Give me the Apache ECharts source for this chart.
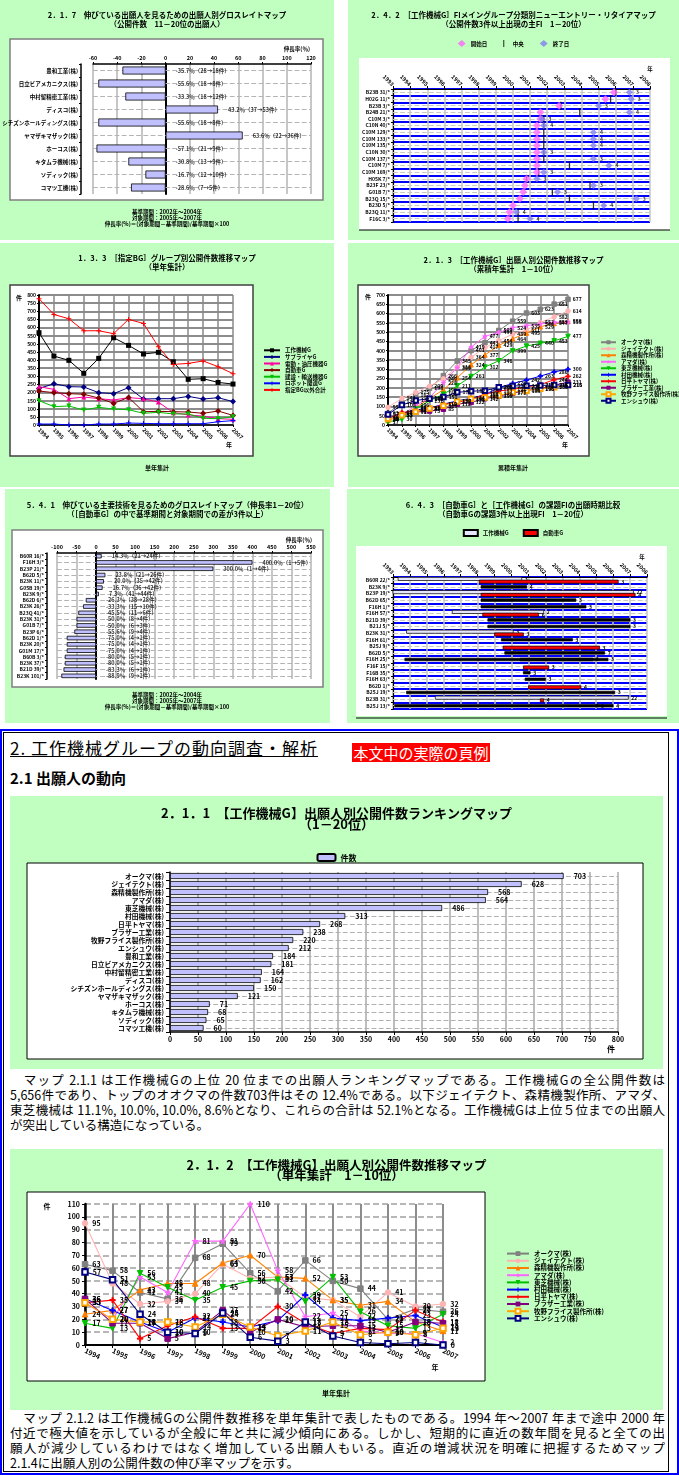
<!DOCTYPE html>
<html><head><meta charset="utf-8">
<script src="https://cdn.jsdelivr.net/npm/echarts@6/dist/echarts.min.js"></script>
<style>
body{margin:0;width:679px;height:1475px;position:relative;background:#fff;overflow:hidden;font-family:"Noto Sans CJK JP","Noto Sans",sans-serif;color:#000}
.c{position:absolute}
.ln{height:15px;line-height:15px;font-size:12.5px;text-align:justify;text-align-last:justify;overflow:hidden}
.ln.last{text-align-last:left}
</style></head><body>
<div id="p1" class="c" style="left:0;top:0;width:334px;height:240px"></div>
<div id="p2" class="c" style="left:348px;top:0;width:331px;height:240px"></div>
<div id="p3" class="c" style="left:0;top:243px;width:334px;height:244px"></div>
<div id="p4" class="c" style="left:348px;top:243px;width:331px;height:244px"></div>
<div id="p5" class="c" style="left:5px;top:489px;width:325px;height:234px"></div>
<div id="p6" class="c" style="left:347px;top:489px;width:332px;height:234px"></div>

<div class="c" style="left:0;top:729px;width:675px;height:742px;border:2px solid #0000ff"></div>
<div class="c" style="left:3px;top:732px;width:664px;height:738px;border:1px solid #000"></div>
<div class="c" style="left:10px;top:737px;font-size:17px;line-height:21px;letter-spacing:1px;text-decoration:underline">2. 工作機械グループの動向調査・解析</div>
<div class="c" style="left:352px;top:743px;width:138px;height:19px;background:#ff0000;color:#fff;font-size:15px;line-height:19px;text-align:center">本文中の実際の頁例</div>
<div class="c" style="left:10px;top:769px;font-size:15px;line-height:18px;font-weight:bold">2.1 出願人の動向</div>

<div id="p7" class="c" style="left:10px;top:796px;width:653px;height:273px"></div>
<div class="c" style="left:10px;top:1072px;width:655px">
<div class="ln">　マップ 2.1.1 は工作機械Gの上位 20 位までの出願人ランキングマップである。工作機械Gの全公開件数は</div>
<div class="ln">5,656件であり、トップのオオクマの件数703件はその 12.4%である。以下ジェイテクト、森精機製作所、アマダ、</div>
<div class="ln">東芝機械は 11.1%, 10.0%, 10.0%, 8.6%となり、これらの合計は 52.1%となる。工作機械Gは上位５位までの出願人</div>
<div class="ln last">が突出している構造になっている。</div>
</div>
<div id="p8" class="c" style="left:10px;top:1149px;width:653px;height:261px"></div>
<div class="c" style="left:10px;top:1410px;width:655px">
<div class="ln">　マップ 2.1.2 は工作機械Gの公開件数推移を単年集計で表したものである。1994 年～2007 年まで途中 2000 年</div>
<div class="ln">付近で極大値を示しているが全般に年と共に減少傾向にある。しかし、短期的に直近の数年間を見ると全ての出</div>
<div class="ln">願人が減少しているわけではなく増加している出願人もいる。直近の増減状況を明確に把握するためマップ</div>
<div class="ln last">2.1.4に出願人別の公開件数の伸び率マップを示す。</div>
</div>

<script>
// ================= DATA =================
// 2.1.7 growth map (applicants 11-20)
const p1Cats = ['豊和工業(株)','日立ビアメカニクス(株)','中村留精密工業(株)','ディスコ(株)','シチズンホールディングス(株)','ヤマザキマザック(株)','ホーコス(株)','キタムラ機械(株)','ソディック(株)','コマツ工機(株)'];
const p1Rate = [-35.7,-55.6,-33.3,43.2,-55.6,63.6,-57.1,-30.8,-16.7,-28.6];
const p1Base = [28,18,18,37,18,22,21,13,12,7];
const p1Target = [18,8,12,53,8,36,9,9,10,5];

// 2.4.2 new entry / retire map
const p2Cats = ['B23B 31/*','H02G 11/*','B23B 3/*','B24B 21/*','C10M 3/*','C10N 40/*','C10M 129/*','C10M 133/*','C10M 135/*','C10N 30/*','C10M 137/*','C10M 7/*','C10M 169/*','H05K 7/*','B23F 23/*','G01B 7/*','B23Q 15/*','B23D 5/*','B23Q 11/*','F16C 3/*'];
const p2Start = [2005.9,2005.4,2002.7,2001.6,2001.6,2001.4,2001.4,2001.4,2001.4,2001.4,2001.4,2001.4,2001.4,2000.8,2000.7,2000.6,2000.4,2000.0,1999.8,1999.7];
const p2Mid = [2006.0,2005.7,2002.8,2003.9,2001.8,2001.8,2001.8,2001.8,2001.8,2001.8,2001.8,2003.3,2001.5,2000.8,2004.5,2002.3,2003.3,2004.7,2000.3,2000.3];
const p2End = [2006.8,2006.9,2005.0,2006.8,2001.7,2001.8,2004.7,2004.7,2004.7,2001.8,2004.7,2005.6,2001.8,2001.4,2004.7,2002.6,2007.2,2005.3,2000.2,2001.0];
const p2Count = [3,3,3,4,3,4,4,4,4,3,3,4,3,3,3,3,3,4,4,4];

// common years
const years = ['1994','1995','1996','1997','1998','1999','2000','2001','2002','2003','2004','2005','2006','2007'];

// 1.3.3 group trend (single year)
const p3Names = ['工作機械G','サプライヤG','電動・油圧機器G','自動車G','建設・輸送機器G','ロボット関連G','指定BG以外合計'];
const p3Machine = [568,424,398,318,410,537,490,437,447,389,281,285,262,252];
const p3Supplier = [225,254,236,234,199,193,230,160,162,162,176,160,168,144];
const p3Motor = [236,219,162,172,162,154,168,162,141,76,62,55,39,35];
const p3Auto = [209,199,193,189,166,133,170,82,84,82,80,72,86,59];
const p3Construct = [150,113,117,92,109,98,94,72,78,68,68,41,39,51];
const p3Robot = [6,6,0,0,6,6,12,10,8,8,8,8,20,27];
const p3Other = [777,680,654,580,580,562,650,625,482,373,379,394,359,316];

// applicants top 10
const appNames = ['オークマ(株)','ジェイテクト(株)','森精機製作所(株)','アマダ(株)','東芝機械(株)','村田機械(株)','日平トヤマ(株)','ブラザー工業(株)','牧野フライス製作所(株)','エンシュウ(株)'];
// 2.1.3 cumulative
const okumaCum = [63,121,162,198,266,345,401,443,509,559,603,623,651,677];
const jtektCum = [95,143,175,209,249,312,364,417,454,489,511,552,582,614];
const moriCum = [24,51,94,142,190,254,324,377,429,464,495,529,547,558];
const amadaCum = [33,53,106,147,228,309,419,477,499,524,535,544,553,555];
const toshibaCum = [17,30,86,131,166,211,261,312,346,399,425,440,453,477];
const murataCum = [36,63,81,91,112,130,144,163,202,223,242,263,286,300];
const toyamaCum = [33,68,73,88,110,123,136,166,183,192,205,217,244,262];
const brotherCum = [36,53,70,75,85,112,122,142,156,171,186,196,214,231];
const makinoCum = [33,53,71,89,103,127,141,148,159,177,185,195,203,216];
const enshuCum = [57,108,132,142,151,176,182,185,203,210,212,213,215,215];
// 2.1.2 single year
const okumaYr = [63,58,41,36,68,79,56,42,66,50,44,20,28,26];
const jtektYr = [95,48,32,34,40,63,52,53,37,35,22,41,30,32];
const moriYr = [24,27,43,48,48,64,70,53,52,35,31,34,18,11];
const amadaYr = [33,20,53,41,81,81,110,58,22,25,11,9,9,2];
const toshibaYr = [17,13,56,45,35,45,50,51,34,53,26,15,13,24];
const murataYr = [36,27,18,10,21,18,14,19,39,21,19,21,23,14];
const toyamaYr = [33,35,5,15,22,13,13,30,17,9,13,12,27,18];
const brotherYr = [36,17,17,5,10,27,10,20,14,15,15,10,18,17];
const makinoYr = [33,20,18,18,14,24,14,7,11,18,8,10,8,13];
const enshuYr = [57,51,24,10,9,25,6,3,18,7,2,1,2,0];

// 5.4.1 growth map (technologies)
const p5Cats = ['B60R 16/*','F16H 3/*','B23P 21/*','B62D 5/*','B23K 11/*','G05B 19/*','B23K 9/*','B62D 6/*','B23K 26/*','B23Q 41/*','B23K 31/*','G01B 7/*','B23P 6/*','B62D 1/*','B23K 20/*','G01M 17/*','B60B 3/*','B23K 37/*','B21D 39/*','B23K 101/*'];
const p5Rate = [14.3,400.0,300.0,23.8,20.0,16.7,7.3,-26.3,-33.3,-45.5,-50.0,-50.0,-55.6,-75.0,-75.0,-75.0,-80.0,-80.0,-83.3,-88.9];
const p5Base = [21,1,1,21,35,36,41,38,15,11,8,6,9,4,4,4,5,5,6,9];
const p5Target = [24,5,4,26,42,42,44,28,10,6,4,3,4,1,1,1,1,1,1,1];

// 6.4.3 period comparison
const p6Cats = ['B60R 22/*','B23K 9/*','B23P 19/*','B62D 65/*','F16H 1/*','F16H 57/*','B21D 39/*','B21J 5/*','B23K 31/*','F16H 61/*','B25J 9/*','B62D 5/*','F16H 25/*','F16F 15/*','F16B 35/*','F16H 63/*','B62D 1/*','B25J 19/*','B23B 31/*','B25J 13/*'];
const mtRows = [0,2,5,8,18];
const mtStart = [1993.3,1993.0,1996.5,1993.8,1995.5];
const mtEnd = [2000.6,2007.2,2001.9,2000.1,2006.9];
const mtCount = [3,22,2,3,22];
const auRows = [0,2,5,8,10,13,16,18];
const auStart = [1998.1,1998.2,1998.3,1999.0,1999.5,2000.7,2001.0,2001.7];
const auEnd = [2006.3,2007.3,2001.6,2000.7,2005.2,2002.2,2004.1,2001.9];
const auCount = [3,4,6,3,3,3,4,4];
const bkRows = [1,3,4,6,7,9,11,12,12,14,15,17,19,19];
const bkStart = [1998.2,1998.2,1998.2,1998.6,1998.6,1999.4,1999.6,1993.7,2000.5,2000.7,2000.8,1993.8,1993.1,2005.0];
const bkEnd = [2000.9,2003.8,2004.4,2007.0,2007.0,2003.6,2005.5,2004.8,2005.7,2001.1,2002.0,2006.1,2005.1,2006.0];
const bkCount = [4,3,3,3,3,3,7,3,3,3,3,3,3,4];

// 2.1.1 ranking
const rankCats = ['オークマ(株)','ジェイテクト(株)','森精機製作所(株)','アマダ(株)','東芝機械(株)','村田機械(株)','日平トヤマ(株)','ブラザー工業(株)','牧野フライス製作所(株)','エンシュウ(株)','豊和工業(株)','日立ビアメカニクス(株)','中村留精密工業(株)','ディスコ(株)','シチズンホールディングス(株)','ヤマザキマザック(株)','ホーコス(株)','キタムラ機械(株)','ソディック(株)','コマツ工機(株)'];
const rankVals = [703,628,568,564,486,313,268,238,220,212,184,181,164,162,150,121,71,68,65,60];

const notes = ['基準期間：2002年～2004年','対象期間：2005年～2007年','伸長率(%)＝(対象期間－基準期間)/基準期間×100'];

// ================= HELPERS =================
const FF = '"Noto Sans CJK JP","Noto Sans",sans-serif';
const GREEN = '#c0ffc0';
function mk(id, opt){
  const c = echarts.init(document.getElementById(id), null, {renderer:'canvas'});
  opt.textStyle = Object.assign({fontFamily:FF, color:'#000'}, opt.textStyle||{});
  opt.animation = false;
  opt.backgroundColor = GREEN;
  c.setOption(opt);
}
function gtext(x, y, text, size, align, weight){
  return {type:'text', x:x, y:y, z:10, style:{text:text, fontSize:size, fontWeight:weight||'bold', fontFamily:FF, fill:'#000',
    align:align||'center', verticalAlign:'middle', textAlign:align||'center', textVerticalAlign:'middle'}};
}
function box(x,y,w,h,stroke,lw){
  return {type:'rect', z:-10, shape:{x:x,y:y,width:w,height:h}, style:{fill:'#fff', stroke:stroke||null, lineWidth:lw||0}};
}
function hline(x1,x2,y,color,w){
  return {type:'line', z:-5, shape:{x1:x1,y1:y,x2:x2,y2:y}, style:{stroke:color, lineWidth:w}};
}
function titleOpt(text, top, size, lh){
  return {text:text, left:'center', top:top, padding:0, textStyle:{fontSize:size, fontWeight:'bold', lineHeight:lh, color:'#000', fontFamily:FF}};
}
function rowLines(cats, color){
  return {type:'line', data:[], silent:true,
    markLine:{silent:true, z:1, symbol:'none', label:{show:false}, animation:false,
      lineStyle:{color:color||'#b4b4b4', type:'dashed', width:1.2},
      data:cats.map((c,i)=>({yAxis:i}))}};
}
const PLUS = 'path://M4,0h2v4h4v2h-4v4h-2v-4h-4v-2h4z';
const STAR = 'path://M5,0L6.2,3.8L10,3.8L7,6.2L8.1,10L5,7.6L1.9,10L3,6.2L0,3.8L3.8,3.8Z';
const DASH = 'path://M0,4h10v2h-10z';

function growthOption(c){
  const labels = c.rate.map((v,i)=> v.toFixed(1)+'％（'+c.base[i]+'→'+c.target[i]+'件）');
  return {
    title: titleOpt(c.title, c.titleTop, 7.5, 9.5),
    graphic: [box(c.box[0],c.box[1],c.box[2],c.box[3],'#7f7f7f',1.5),
      gtext(c.nameX, c.nameY, '伸長率(％)', 5.5, 'right')]
      .concat(notes.map((t,i)=>gtext(c.noteX, c.noteY+i*5.8, t, 5.5, 'center'))),
    grid: Object.assign({outerBoundsMode:'none'}, c.grid),
    xAxis: {type:'value', min:c.min, max:c.max, interval:c.interval, position:'top',
      axisLine:{show:true, onZero:false, lineStyle:{color:'#000', width:1.5}},
      axisTick:{show:true, length:2, lineStyle:{color:'#000'}},
      axisLabel:{fontSize:5.5, fontWeight:'bold', color:'#000', margin:3},
      splitLine:{show:true, lineStyle:{color:'#b4b4b4', width:1.5}}},
    yAxis: [
      {type:'category', inverse:true, data:c.cats, offset:c.yOffset,
       axisLine:{show:true, onZero:false, lineStyle:{color:'#000', width:1.5}},
       axisTick:{show:true, length:2, interval:0, lineStyle:{color:'#000'}},
       axisLabel:{fontSize:c.catFont, fontWeight:'bold', color:'#000', margin:3, interval:0},
       splitLine:{show:false}},
      {type:'category', inverse:true, data:c.cats, position:'left',
       axisLine:{show:true, onZero:true, lineStyle:{color:'#000', width:2}},
       axisTick:{show:false}, axisLabel:{show:false}, splitLine:{show:false}}
    ],
    series: [
      {type:'bar', data:c.rate, barWidth:c.barWidth, z:3,
       itemStyle:{color:'#c0c0ff', borderColor:'#000', borderWidth:0.8}},
      {type:'scatter', data:c.rate.map((v,i)=>[Math.max(v,0), i]), symbolSize:0, z:4, silent:true,
       label:{show:true, position:'right', distance:c.labelDist, formatter:p=>labels[p.dataIndex],
         fontSize:5.5, fontWeight:'bold', color:'#000'}},
      rowLines(c.cats)
    ]
  };
}

function timeAxis(){
  return {type:'value', min:1993, max:2008, interval:1, position:'top',
    axisLine:{show:true, onZero:false, lineStyle:{color:'#000', width:1.2}},
    axisTick:{show:true, length:3, lineStyle:{color:'#000'}},
    axisLabel:{rotate:45, fontSize:5.5, fontWeight:'bold', color:'#000', margin:4, formatter:v=>String(v)},
    splitLine:{show:true, lineStyle:{color:'#c4c4c4', width:1.5}}};
}
function rowAxis(cats){
  return {type:'category', inverse:true, data:cats,
    axisLine:{show:true, onZero:false, lineStyle:{color:'#000', width:1.2}},
    axisTick:{show:true, length:2, interval:0, lineStyle:{color:'#000'}},
    axisLabel:{fontSize:5, fontWeight:'bold', color:'#000', margin:3, interval:0},
    splitLine:{show:true, interval:0, lineStyle:{color:'#0000ff', width:2}}};
}

// ================= PANEL 1 : 2.1.7 =================
mk('p1', growthOption({
  title:'2．1．7　伸びている出願人を見るための出願人別グロスレイトマップ\n（公開件数　11－20位の出願人）',
  titleTop:10, cats:p1Cats, rate:p1Rate, base:p1Base, target:p1Target,
  box:[10,39,313,161], grid:{left:93, right:23, top:64, bottom:46},
  min:-60, max:120, interval:20, yOffset:12, nameX:310, nameY:49,
  noteX:167, noteY:212, barWidth:8, labelDist:10, catFont:5.5
}));

// ================= PANEL 2 : 2.4.2 =================
mk('p2', {
  title: titleOpt('2．4．2　［工作機械G］FIメイングループ分類別ニューエントリー・リタイアマップ\n（公開件数3件以上出現の主FI　1－20位）', 10, 7.5, 9.5),
  legend:{top:40, left:'center', padding:0, itemGap:16, itemWidth:8, itemHeight:7,
    textStyle:{fontSize:5.5, fontWeight:'bold', color:'#000'},
    data:[{name:'開始日'},{name:'中央', icon:'path://M0,0h1.5v10h-1.5z'},{name:'終了日'}]},
  graphic:[box(11,58,311,172), hline(11,322,230,'#000',1.2), gtext(302,69,'年',5.5,'center')],
  grid:{left:45, right:29, top:89, bottom:18, outerBoundsMode:'none'},
  xAxis: timeAxis(),
  yAxis: rowAxis(p2Cats),
  series:[
    {name:'開始日', type:'scatter', symbol:'diamond', symbolSize:8, z:4, itemStyle:{color:'#ff66ff'},
     data:p2Start.map((v,i)=>[v,i])},
    {name:'中央', type:'scatter', symbol:'rect', symbolSize:[1.3,8], z:3, itemStyle:{color:'#000'},
     data:p2Mid.map((v,i)=>[v,i])},
    {name:'終了日', type:'scatter', symbol:'diamond', symbolSize:7, z:4, itemStyle:{color:'#8080f0'},
     data:p2End.map((v,i)=>[v,i]),
     label:{show:true, position:'right', distance:3, formatter:p=>String(p2Count[p.dataIndex]), fontSize:5, fontWeight:'bold', color:'#000'}},
    rowLines(p2Cats, '#c8c8c8')
  ]
});

// ================= PANEL 3 : 1.3.3 =================
function ln(name, data, color, symbol, size, extra){
  return Object.assign({name:name, type:'line', data:data, symbol:symbol, symbolSize:size, showAllSymbol:true,
    lineStyle:{color:color, width:1}, itemStyle:{color:color}}, extra||{});
}
mk('p3', {
  title: titleOpt('1．3．3　［指定BG］グループ別公開件数推移マップ\n（単年集計）', 10, 7.5, 9.5),
  legend:{orient:'vertical', left:263, top:104, padding:0, itemGap:0, itemWidth:16, itemHeight:5,
    textStyle:{fontSize:5.5, fontWeight:'bold', lineHeight:6.6, color:'#000'}},
  graphic:[box(10,42,243,171,'#404040',1.5), gtext(19,55,'件',6,'center'), gtext(229,202,'年',6,'center'), gtext(157,225,'単年集計',6,'center')],
  grid:{left:39, right:101, top:52, bottom:62, outerBoundsMode:'none'},
  xAxis:{type:'category', data:years, boundaryGap:false,
    axisLine:{lineStyle:{color:'#000', width:1.5}}, axisTick:{show:true, interval:0, length:2, lineStyle:{color:'#000'}},
    axisLabel:{rotate:-45, fontSize:5.5, fontWeight:'bold', color:'#000', interval:0, margin:4},
    splitLine:{show:true, interval:0, lineStyle:{color:'#888', width:1.5}}},
  yAxis:{type:'value', min:0, max:800, interval:50,
    axisLine:{show:true, lineStyle:{color:'#000', width:2}}, axisTick:{show:true, length:2, lineStyle:{color:'#000'}},
    axisLabel:{fontSize:5, fontWeight:'bold', color:'#000', margin:3},
    splitLine:{lineStyle:{color:'#8c8c8c', width:1.8}}},
  series:[
    ln(p3Names[0], p3Machine, '#000000', 'rect', 5),
    ln(p3Names[1], p3Supplier, '#000080', 'diamond', 6),
    ln(p3Names[2], p3Motor, '#ff00a0', 'triangle', 5),
    ln(p3Names[3], p3Auto, '#800000', 'diamond', 6),
    ln(p3Names[4], p3Construct, '#00c000', 'triangle', 5, {symbolRotate:180}),
    ln(p3Names[5], p3Robot, '#0000ff', PLUS, 5),
    ln(p3Names[6], p3Other, '#ff0000', PLUS, 5)
  ]
});

// ================= PANEL 4 : 2.1.3 =================
const appColors = ['#808080','#ffb4b4','#ff8000','#ff66ff','#00c000','#0000ff','#ff0000','#800080','#ffa500','#000080'];
const appSymbols = ['rect','circle','triangle',STAR,'triangle',PLUS,PLUS,DASH,'emptyRect','emptyRect'];
const cumData = [okumaCum,jtektCum,moriCum,amadaCum,toshibaCum,murataCum,toyamaCum,brotherCum,makinoCum,enshuCum];
const yrData = [okumaYr,jtektYr,moriYr,amadaYr,toshibaYr,murataYr,toyamaYr,brotherYr,makinoYr,enshuYr];
function appSeries(dataSets, size, lw, labelSize, dist){
  return appNames.map((n,i)=>({name:n, type:'line', data:dataSets[i], symbol:appSymbols[i], symbolSize:size,
    symbolRotate: i===4 ? 180 : 0, showAllSymbol:true,
    lineStyle:{color:appColors[i], width:lw}, itemStyle:{color:appColors[i], borderColor:appColors[i]},
    label:{show:true, position:'right', distance:dist, fontSize:labelSize, fontWeight:'bold', color:'#000'}}));
}
mk('p4', {
  title: titleOpt('2．1．3　［工作機械G］出願人別公開件数推移マップ\n（累積年集計　1－10位）', 12, 7.5, 9.5),
  legend:{orient:'vertical', left:252, top:96, padding:0, itemGap:0, itemWidth:15, itemHeight:5,
    textStyle:{fontSize:5.5, fontWeight:'bold', lineHeight:6.5, color:'#000'}},
  graphic:[box(10,42,231,171,'#404040',1.5), gtext(20,54,'件',6,'center'), gtext(217,202,'年',6,'center'), gtext(165,225,'累積年集計',6,'center')],
  grid:{left:40, right:111, top:52, bottom:62, outerBoundsMode:'none'},
  xAxis:{type:'category', data:years, boundaryGap:false,
    axisLine:{lineStyle:{color:'#000', width:1.5}}, axisTick:{show:true, interval:0, length:2, lineStyle:{color:'#000'}},
    axisLabel:{rotate:-45, fontSize:5.5, fontWeight:'bold', color:'#000', interval:0, margin:4},
    splitLine:{show:true, interval:0, lineStyle:{color:'#888', width:1.5}}},
  yAxis:{type:'value', min:0, max:700, interval:50,
    axisLine:{show:true, lineStyle:{color:'#000', width:2}}, axisTick:{show:true, length:2, lineStyle:{color:'#000'}},
    axisLabel:{fontSize:5, fontWeight:'bold', color:'#000', margin:3},
    splitLine:{lineStyle:{color:'#8c8c8c', width:1.8}}},
  series: appSeries(cumData, 4.5, 1, 5, 2)
});

// ================= PANEL 5 : 5.4.1 =================
mk('p5', growthOption({
  title:'5．4．1　伸びている主要技術を見るためのグロスレイトマップ（伸長率1－20位）\n（［自動車G］の中で基準期間と対象期間での差が3件以上）',
  titleTop:11, cats:p5Cats, rate:p5Rate, base:p5Base, target:p5Target,
  box:[7,41,311,157], grid:{left:52, right:19, top:64, bottom:44},
  min:-100, max:550, interval:50, yOffset:10, nameX:307, nameY:51,
  noteX:162, noteY:206, barWidth:4.5, labelDist:10, catFont:5
}));

// ================= PANEL 6 : 6.4.3 =================
function rangeSeries(name, rows, start, end, count, fill, h, dy){
  return {name:name, type:'custom', z:3, itemStyle:{color:fill, borderColor:'#000', borderWidth:0.8},
    encode:{x:[1,2], y:0},
    data: rows.map((r,i)=>[r, start[i], end[i], count[i]]),
    renderItem: function(params, api){
      const a = api.coord([api.value(1), api.value(0)]);
      const b = api.coord([api.value(2), api.value(0)]);
      return {type:'group', children:[
        {type:'rect', shape:{x:a[0], y:a[1]+dy-h/2, width:Math.max(b[0]-a[0],1.5), height:h},
         style:{fill:fill, stroke:'#000', lineWidth:0.7}},
        {type:'text', x:b[0]+3, y:a[1]+dy,
         style:{text:String(api.value(3)), fontSize:5, fontWeight:'bold', fontFamily:FF, fill:'#000', align:'left', verticalAlign:'middle'}}
      ]};
    }};
}
mk('p6', {
  title: titleOpt('6．4．3　［自動車G］と［工作機械G］の課題FIの出願時期比較\n（自動車Gの課題3件以上出現FI　1－20位）', 11, 7.5, 9.5),
  legend:{top:40, left:'center', padding:0, itemGap:14, itemWidth:14, itemHeight:6,
    textStyle:{fontSize:5.5, fontWeight:'bold', color:'#000'},
    data:[{name:'工作機械G', icon:'rect'},{name:'自動車G', icon:'rect'}]},
  graphic:[box(9,57,311,170), hline(9,320,229,'#000',1.2), gtext(295,68,'年',5.5,'center')],
  grid:{left:46, right:32, top:88, bottom:14, outerBoundsMode:'none'},
  xAxis: timeAxis(),
  yAxis: rowAxis(p6Cats),
  series:[
    rangeSeries('工作機械G', mtRows, mtStart, mtEnd, mtCount, '#e6e6ff', 3.2, -1.4),
    rangeSeries('自動車G', auRows, auStart, auEnd, auCount, '#ff0000', 3.2, 1.4),
    rangeSeries('共通', bkRows, bkStart, bkEnd, bkCount, '#000000', 2.6, 0),
    rowLines(p6Cats, '#c8c8c8')
  ]
});

// ================= PANEL 7 : 2.1.1 =================
mk('p7', {
  title: titleOpt('2．1．1　【工作機械G】出願人別公開件数ランキングマップ\n（1－20位）', 12, 13, 11),
  legend:{top:57, left:'center', padding:0, itemWidth:18, itemHeight:7, data:['件数'],
    textStyle:{fontSize:8, fontWeight:'bold', color:'#000'}},
  graphic:[box(17,67,616,196,'#000',1), gtext(601,253,'件',8,'center')],
  grid:{left:160, right:45, top:76, bottom:37, outerBoundsMode:'none'},
  xAxis:{type:'value', min:0, max:800, interval:50,
    axisLine:{show:true, lineStyle:{color:'#000', width:1.5}}, axisTick:{show:true, length:3, lineStyle:{color:'#000'}},
    axisLabel:{fontSize:7, fontWeight:'bold', color:'#000', margin:4},
    splitLine:{show:true, lineStyle:{color:'#a8a8a8', width:1.5}}},
  yAxis:{type:'category', inverse:true, data:rankCats,
    axisLine:{show:true, lineStyle:{color:'#000', width:1.5}}, axisTick:{show:true, length:4, interval:0, lineStyle:{color:'#000'}},
    axisLabel:{fontSize:6.8, fontWeight:'bold', color:'#000', margin:6, interval:0}},
  series:[
    {name:'件数', type:'bar', data:rankVals, barWidth:6, z:3,
     itemStyle:{color:'#c0c0ff', borderColor:'#000', borderWidth:0.8},
     label:{show:true, position:'right', distance:10, fontSize:7, fontWeight:'bold', color:'#000'}},
    rowLines(rankCats, '#b0b0b0')
  ]
});

// ================= PANEL 8 : 2.1.2 =================
mk('p8', {
  title: titleOpt('2．1．2　【工作機械G】出願人別公開件数推移マップ\n（単年集計　1－10位）', 11, 12.5, 10),
  legend:{orient:'vertical', left:496, top:101, padding:0, itemGap:0, itemWidth:22, itemHeight:6,
    textStyle:{fontSize:6.5, fontWeight:'bold', lineHeight:7.2, color:'#000'}},
  graphic:[box(17,43,458,189,'#000',1), gtext(37,57,'件',7,'center'), gtext(425,218,'年',7,'center'), gtext(326,244,'単年集計',7,'center')],
  grid:{left:75, right:220, top:55, bottom:65, outerBoundsMode:'none'},
  xAxis:{type:'category', data:years, boundaryGap:false,
    axisLine:{lineStyle:{color:'#000', width:2}}, axisTick:{show:true, interval:0, length:3, lineStyle:{color:'#000'}},
    axisLabel:{rotate:-25, fontSize:7, fontWeight:'bold', color:'#000', interval:0, margin:5},
    splitLine:{show:true, interval:0, lineStyle:{color:'#8c8c8c', width:2}}},
  yAxis:{type:'value', min:0, max:110, interval:10,
    axisLine:{show:true, lineStyle:{color:'#000', width:2.5}}, axisTick:{show:true, length:3, lineStyle:{color:'#000'}},
    axisLabel:{fontSize:7, fontWeight:'bold', color:'#000', margin:5},
    splitLine:{lineStyle:{color:'#a0a0a0', width:1.5, type:'dashed'}}},
  series: appSeries(yrData, 5.5, 1.1, 7, 4)
});
</script>
</body></html>
